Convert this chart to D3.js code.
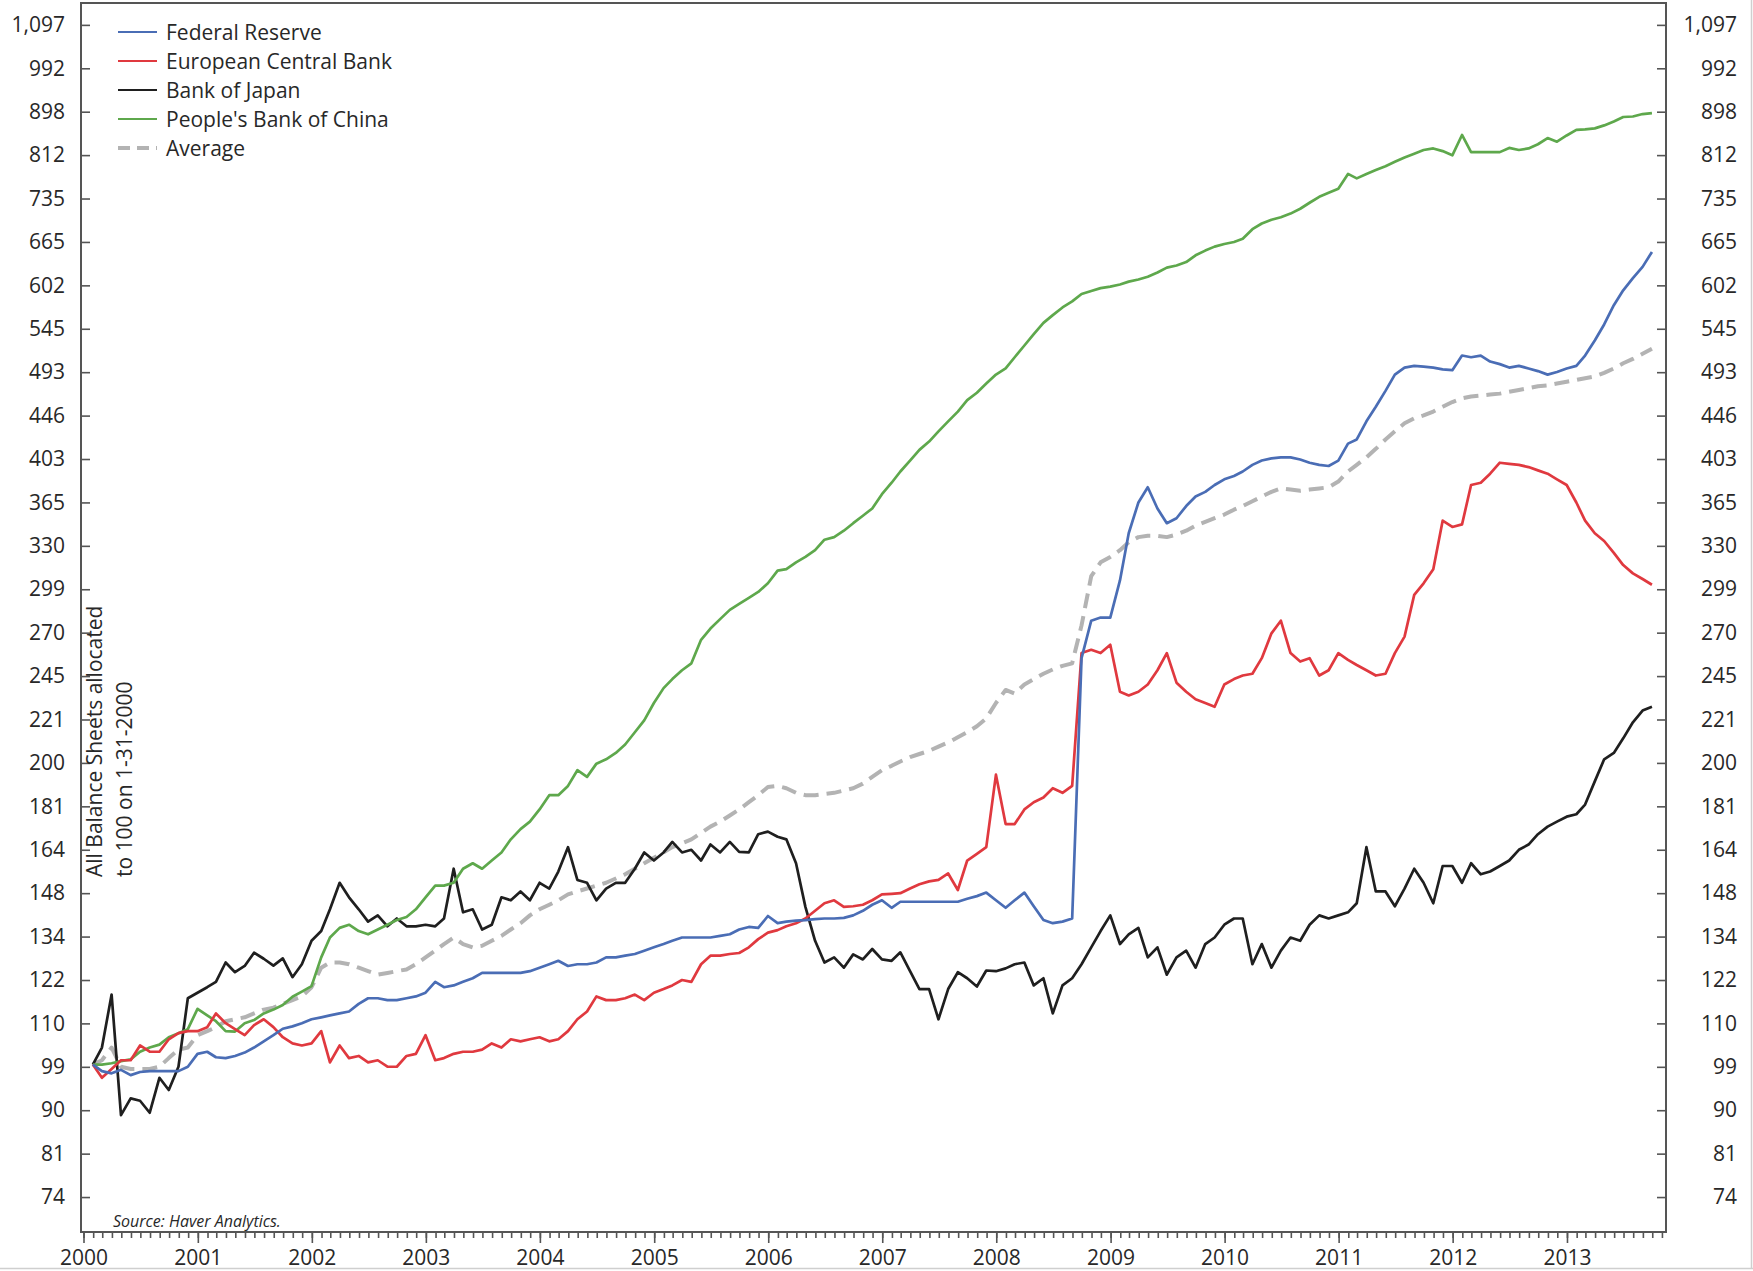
<!DOCTYPE html>
<html><head><meta charset="utf-8">
<script src="https://cdn.jsdelivr.net/npm/d3@7"></script>
<style>
html,body{margin:0;padding:0;background:#fff;}
svg{display:block;}
text{font-family:"Open Sans",sans-serif;fill:#282828;}
</style></head><body>
<svg id="chart" width="1753" height="1271"></svg>
<script>
// ---------- DATA (monthly, Jan 2000 - Sep 2013, index 100 = 1-31-2000) ----------
const seriesNames = ["Federal Reserve","European Central Bank","Bank of Japan","People's Bank of China","Average"];

const fedValues = [
 100,98.5,98,98.8,97.6,98.3,98.5,98.5,98.5,98.5,99.5,102.5,
 103,101.7,101.5,102,102.8,104,105.5,107,108.6,109.2,110,111,
 111.5,112,112.5,113,115,116.5,116.5,116,116,116.5,117,118,
 121,119.5,120,121,122,123.5,123.5,123.5,123.5,123.5,124,125,
 126,127,125.5,126,126,126.5,128,128,128.5,129,130,131,
 132,133,134,134,134,134,134.5,135,136.5,137.3,137,140.8,
 138.5,139,139.3,139.5,139.8,140,140,140.2,141,142.5,144.5,146,
 143.5,145.5,145.5,145.5,145.5,145.5,145.5,145.5,146.5,147.4,148.6,146,
 143.5,146,148.6,144,139.5,138.5,139,140,255,278,280,280,
 305,340,365,378,360,348,352,362,370,374,380,385,
 388,392,398,402,404,405,405,403,400,398,397,402,
 418,422,440,455,472,490,498,500,499,498,496,495,
 512,510,512,505,502,498,500,497,494,490,493,497,
 500,512,530,550,575,595,612,628,650];

const ecbValues = [
 100,97,99,101,101,104.5,103,103,106,107.5,108,108,
 109,112.5,110,108.5,107,109.5,111,109,106.5,105,104.5,105,
 108,100.5,104.5,101.5,102,100.5,101,99.5,99.5,102,102.5,107,
 101,101.5,102.5,103,103,103.5,105,104,106,105.5,106,106.5,
 105.5,106,108,111,113,117,116,116,116.5,117.5,116,118,
 119,120,121.5,121,126,128.5,128.5,129,129.3,131,133.5,135.5,
 136.3,137.5,138.5,140,142.5,145,146,143.8,144,144.5,146,148,
 148.2,148.4,150,151.5,152.5,153,155.3,149.5,160,162.5,165,195,
 174,174,180,183,185,189,187,190,258,260,258,263,
 236,234,236,240,248,258,241,236,232,230,228,240,
 243,245,246,255,270,278,258,253,255,245,248,258,
 254,251,248,245,246,258,268,295,303,313,350,345,
 347,380,382,390,400,399,398,396,393,390,385,380,
 365,350,340,334,325,316,310,306,302];

const bojValues = [
 100,104,117.5,89,92.5,92,89.5,97,94.3,99.5,116.5,118,
 119.5,121,126.5,123.7,125.5,129.4,127.6,125.6,127.7,122.3,126,133,
 136,143,152,147,143,139,141,137.5,140,137.5,137.5,138,
 137.5,140,157,142,143,136.5,138,147,146,149,146,152,
 150,156,165,153,152,146,150,152,152,157,163,160,
 163,167,163,164,160,166,163,167,163.2,163,170,171,
 169,168,159,143.8,133,126.5,128,125,128.9,127.4,130.5,127.4,
 127,129.5,124,119,119,111,119,123.7,122,119.7,124.2,124,
 124.8,126,126.5,120,122,112.5,120,122,126,131,136,141,
 132,135,137,128,131,123,128,130,125,132,134,138,
 140,140,126,132,125,130,134,133,138,141,140,141,
 142,145,165,149,149,144,150,157,152,145,158,158,
 152,159,155,156,158,160,164,166,170,173,175,177,
 178,182,192,202,205,212,220,226,228];

const pbocValues = [
 100,100,100.3,100.8,101.2,103,104,104.7,106.5,107.5,108.5,113.7,
 112,110.5,108,107.9,110,110.8,112.5,113.5,114.7,116.9,118.3,119.8,
 128,134,137,138,136,135,136.5,138,139.5,140.5,143,147,
 151,151,152,157,159,157,160,163,168,172,175,180,
 186,186,190,197,194,200,202,205,209,215,221,230,
 238,243,248,252,266,273,279,285,289,293,297,303,
 312,313,318,322,327,335,337,342,348,354,360,372,
 382,392,402,412,420,430,440,450,462,470,480,490,
 497,510,524,538,552,562,572,580,590,594,598,600,
 603,607,610,614,620,627,630,635,645,652,658,662,
 665,670,685,694,700,704,710,718,728,738,745,752,
 778,770,778,785,792,800,808,815,822,825,820,812,
 851,818,818,818,818,826,822,825,833,845,838,850,
 861,862,864,870,878,887,888,893,895];

const avgValues = [
 100,101,104,99.5,99,99,99,99.5,101.5,103.5,104,107,
 108,109,110.5,111,111.5,112.5,113.5,114,115,116,117,119.5,
 125,126.5,126.5,126,125,124,123,123.5,124,124.5,126,128,
 130,132,134,132,131,131.5,133,134.5,136.5,138.5,141,143,
 144.5,146,148,149,150,151,152,153.5,155,157,159,161,
 163,165,166.5,168,170.5,173,175,177.5,180,183,186,189.5,
 190,189,187,186,186,186.5,187,188,189,191,194,197,
 199,201,203,204.5,206,208,210,212.5,215,218,222,230,
 237,235,240,243,246,248.5,250.5,252,275,308,318,322,
 327,333,337,338,338,337,339,342,346,349,352,355,
 359,362,366,370,374,377,376,375,376,377,378,383,
 392,398,405,413,422,430,438,443,446,450,455,460,
 464,466,467,468,469,471,473,475,477,478,480,482,
 484,486,488,492,497,503,508,514,520];

const yTickValues = [73.7,81.45,90.02,99.48,109.95,121.5,134.29,148.41,164.02,181.27,200.34,221.41,244.69,270.43,298.87,330.30,365.04,403.43,445.86,492.75,544.57,601.85,665.14,735.10,812.41,897.85,992.27,1096.63];
const yTickLabels = ["74","81","90","99","110","122","134","148","164","181","200","221","245","270","299","330","365","403","446","493","545","602","665","735","812","898","992","1,097"];
const yearLabels = ["2000","2001","2002","2003","2004","2005","2006","2007","2008","2009","2010","2011","2012","2013"];

const colors = {fed:"#4a6db5", ecb:"#e0393f", boj:"#1f1f1f", pboc:"#5ea84c", avg:"#b3b3b3"};

// ---------- CHART ----------
const svg = d3.select("#chart");
const L = 81, R = 1666, T = 3, B = 1232;

const months = d3.timeMonth.range(new Date(2000,0,1), new Date(2000, fedValues.length, 1))
  .map(d => new Date(d.getFullYear(), d.getMonth()+1, 0));

const x = d3.scaleTime().domain([new Date(1999,11,24), new Date(2013,10,14)]).range([L, R]);
const y = d3.scaleLog().domain([68.0, 1153.3]).range([B, T]);

// light outer border (bottom/right)
svg.append("line").attr("x1",0).attr("x2",1753).attr("y1",1268.5).attr("y2",1268.5).attr("stroke","#cfcfcf").attr("stroke-width",1.5);
svg.append("line").attr("x1",1751.5).attr("x2",1751.5).attr("y1",0).attr("y2",1269).attr("stroke","#cfcfcf").attr("stroke-width",1.5);

// axes
const axisColor = "#555";
const leftAxis = svg.append("g").attr("transform",`translate(${L},0)`)
  .call(d3.axisLeft(y).tickValues(yTickValues).tickFormat((d,i)=>yTickLabels[i]).tickSize(-9).tickSizeOuter(0).tickPadding(16));
const rightAxis = svg.append("g").attr("transform",`translate(${R},0)`)
  .call(d3.axisRight(y).tickValues(yTickValues).tickFormat((d,i)=>yTickLabels[i]).tickSize(-9).tickSizeOuter(0).tickPadding(16));
rightAxis.selectAll("text").attr("text-anchor","end").attr("x",71);

const yearTicks = yearLabels.map(s => new Date(+s,0,1));
const monthTicks = d3.timeMonth.range(new Date(2000,0,1), new Date(2013,10,2));
const minorAxis = svg.append("g").attr("transform",`translate(0,${B})`)
  .call(d3.axisBottom(x).tickValues(monthTicks).tickSize(6).tickSizeOuter(0).tickFormat(""));
const majorAxis = svg.append("g").attr("transform",`translate(0,${B})`)
  .call(d3.axisBottom(x).tickValues(yearTicks).tickSize(11).tickSizeOuter(0).tickPadding(7).tickFormat((d,i)=>yearLabels[i]));

[leftAxis,rightAxis,minorAxis,majorAxis].forEach(g=>{
  g.select(".domain").remove();
  g.selectAll(".tick line").attr("stroke",axisColor).attr("stroke-width",1.6);
  g.selectAll("text").style("font-family","'Open Sans',sans-serif").style("font-size","21px").attr("fill","#282828");
});

// frame
svg.append("rect").attr("x",L).attr("y",T).attr("width",R-L).attr("height",B-T)
  .attr("fill","none").attr("stroke",axisColor).attr("stroke-width",2);

// lines
const line = d3.line().x((d,i)=>x(months[i])).y(d=>y(d));
const seriesList = [
  {key:"avg", values:avgValues, dash:"15,8", width:4},
  {key:"boj", values:bojValues, dash:null, width:2.7},
  {key:"pboc", values:pbocValues, dash:null, width:2.7},
  {key:"ecb", values:ecbValues, dash:null, width:2.7},
  {key:"fed", values:fedValues, dash:null, width:2.7}
];
seriesList.forEach(s=>{
  svg.append("path").datum(s.values).attr("d",line)
    .attr("fill","none").attr("stroke",colors[s.key]).attr("stroke-width",s.width)
    .attr("stroke-linejoin","round").attr("stroke-dasharray",s.dash);
});

// legend
const legendItems = [
  {name:seriesNames[0], key:"fed", dash:null, width:2},
  {name:seriesNames[1], key:"ecb", dash:null, width:2},
  {name:seriesNames[2], key:"boj", dash:null, width:2},
  {name:seriesNames[3], key:"pboc", dash:null, width:2},
  {name:seriesNames[4], key:"avg", dash:"12,7", width:4}
];
const lg = svg.append("g");
legendItems.forEach((it,i)=>{
  const cy = 32 + i*29;
  lg.append("line").attr("x1",118).attr("x2",157).attr("y1",cy).attr("y2",cy)
    .attr("stroke",colors[it.key]).attr("stroke-width",it.width).attr("stroke-dasharray",it.dash);
  lg.append("text").attr("x",166).attr("y",cy).attr("dy","0.36em")
    .style("font-size","21px").text(it.name);
});

// y-axis title
svg.append("text").attr("transform","translate(102,877) rotate(-90)").style("font-size","21px").text("All Balance Sheets allocated");
svg.append("text").attr("transform","translate(132,877) rotate(-90)").style("font-size","21px").text("to 100 on 1-31-2000");

// source
svg.append("text").attr("x",113).attr("y",1227).style("font-size","16px").style("font-style","italic")
  .attr("fill","#444").text("Source: Haver Analytics.");
</script>
</body></html>
